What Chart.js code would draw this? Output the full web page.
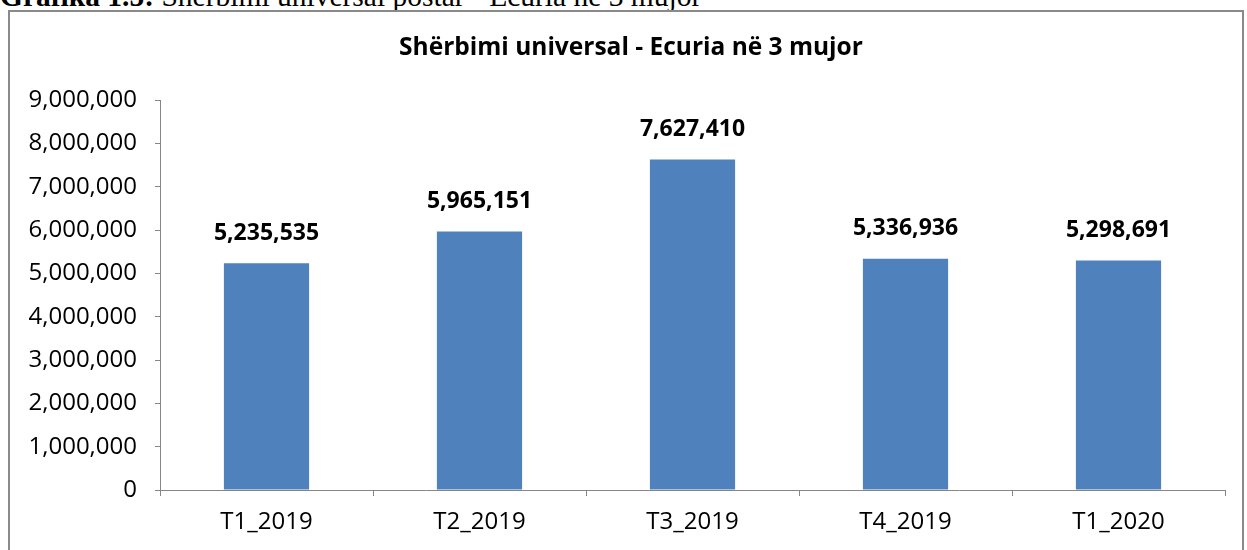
<!DOCTYPE html>
<html>
<head>
<meta charset="utf-8">
<script src="https://cdn.jsdelivr.net/npm/chart.js@4"></script>
<style>
  html, body { margin: 0; padding: 0; background: #fff; overflow: hidden; }
  body { width: 1247px; height: 550px; position: relative; }
  .caption {
    position: absolute; left: 0; top: -18px; white-space: nowrap;
    font-family: "Liberation Serif", serif; font-size: 29.5px; line-height: 29px; color: #000;
  }
  .frame {
    position: absolute; left: 8px; top: 10px; width: 1236px; height: 560px;
    border: 2px solid #8a8a8a; box-sizing: border-box;
  }
  #chart-wrap { position: absolute; left: 0; top: 0; width: 1247px; height: 550px; }
</style>
</head>
<body>
<div class="caption"><b>Grafika 1.5:</b> Shërbimi universal postar - Ecuria në 3 mujor</div>
<div class="frame"></div>
<div id="chart-wrap"><canvas id="chart"></canvas></div>
<script>
/* ── Data ── */
const categories = ['T1_2019', 'T2_2019', 'T3_2019', 'T4_2019', 'T1_2020'];
const volumes = [5235535, 5965151, 7627410, 5336936, 5298691];
const yTicks = [0, 1000000, 2000000, 3000000, 4000000, 5000000, 6000000, 7000000, 8000000, 9000000];
const chartTitle = 'Shërbimi universal - Ecuria në 3 mujor';

const FONT = '"Open Sans", sans-serif';
const fmt = v => v.toLocaleString('en-US');

// values above the bars + title centred over the frame
const barLabels = {
  id: 'barLabels',
  afterDatasetsDraw(chart) {
    const ctx = chart.ctx;
    const meta = chart.getDatasetMeta(0);
    ctx.save();
    ctx.fillStyle = '#000';
    ctx.textAlign = 'center';
    ctx.textBaseline = 'middle';
    ctx.font = 'bold 23px ' + FONT;
    meta.data.forEach((bar, i) => {
      ctx.fillText(fmt(volumes[i]), bar.x, bar.y - 30);
    });
    ctx.font = 'bold 24.5px ' + FONT;
    ctx.fillText(chartTitle, 631, 48);
    ctx.restore();
  }
};

new Chart(document.getElementById('chart'), {
  type: 'bar',
  data: {
    labels: categories,
    datasets: [{
      data: volumes,
      backgroundColor: '#4f81bd',
      borderWidth: 0,
      categoryPercentage: 1,
      barPercentage: 0.4
    }]
  },
  options: {
    responsive: true, maintainAspectRatio: false,
    animation: false,
    devicePixelRatio: 1,
    layout: { padding: { left: 0, right: 22, top: 100, bottom: 0 } },
    plugins: {
      legend: { display: false },
      tooltip: { enabled: false },
      title: { display: false }
    },
    scales: {
      x: {
        offset: true,
        grid: { offset: true, drawOnChartArea: false, color: '#868686', tickLength: 6, tickColor: '#868686' },
        border: { color: '#868686', width: 1 },
        ticks: { color: '#000', padding: 12, font: { family: FONT, size: 24 } },
        afterFit(scale) { scale.height = 60; }
      },
      y: {
        min: 0, max: 9000000,
        afterBuildTicks(scale) { scale.ticks = yTicks.map(v => ({ value: v })); },
        grid: { drawOnChartArea: false, color: '#868686', tickLength: 5, tickColor: '#868686' },
        border: { color: '#868686', width: 1 },
        ticks: { color: '#000', padding: 18, font: { family: FONT, size: 24 }, callback: v => fmt(v) },
        afterFit(scale) { scale.width = 160; }
      }
    }
  },
  plugins: [barLabels]
});
</script>
</body>
</html>
